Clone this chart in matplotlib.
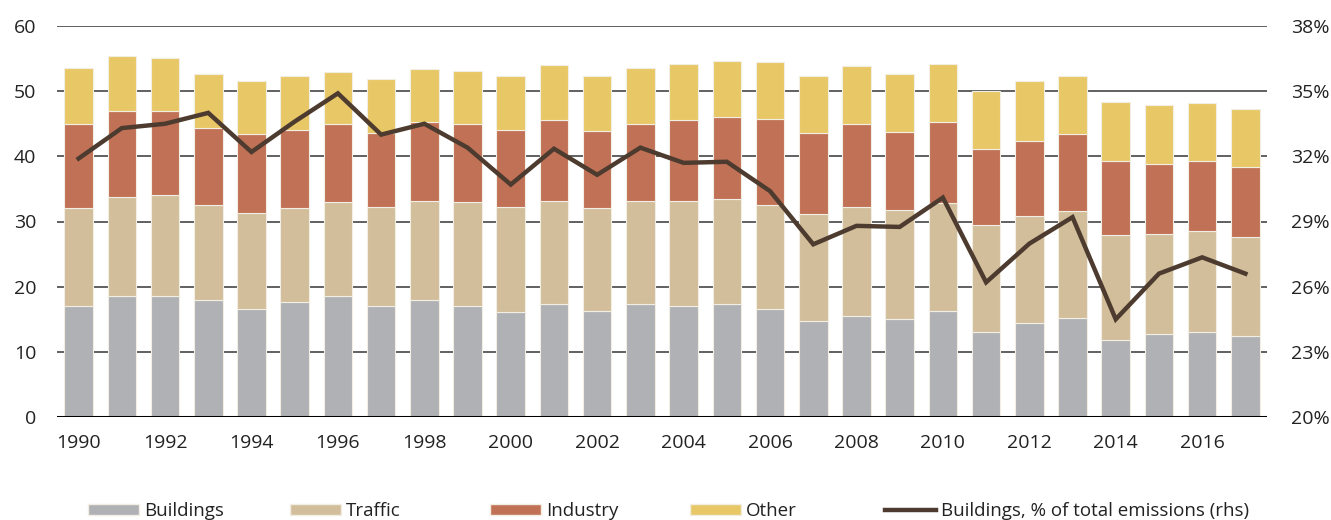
import matplotlib
matplotlib.use("Agg")
import matplotlib.pyplot as plt
from matplotlib.patches import Patch
from matplotlib.lines import Line2D
import numpy as np

plt.rcParams['font.family'] = ['Open Sans', 'DejaVu Sans']

years = list(range(1990, 2018))
# cumulative tops, converted to segment values below
buildings = [17.1, 18.5, 18.5, 17.9, 16.6, 17.6, 18.5, 17.0, 17.9, 17.1,
             16.1, 17.4, 16.3, 17.3, 17.1, 17.4, 16.5, 14.7, 15.5, 15.1,
             16.3, 13.1, 14.4, 15.2, 11.8, 12.7, 13.1, 12.5]
traffic_top = [32.0, 33.8, 34.1, 32.5, 31.3, 32.1, 33.0, 32.2, 33.1, 33.0,
               32.2, 33.2, 32.0, 33.1, 33.1, 33.4, 32.6, 31.1, 32.3, 31.7,
               32.8, 29.4, 30.8, 31.6, 28.0, 28.1, 28.5, 27.6]
industry_top = [45.0, 47.0, 46.9, 44.4, 43.4, 44.1, 44.9, 43.6, 45.2, 45.0,
                44.1, 45.6, 43.9, 45.0, 45.5, 46.1, 45.7, 43.6, 44.9, 43.7,
                45.3, 41.2, 42.4, 43.4, 39.3, 38.9, 39.3, 38.3]
other_top = [53.6, 55.4, 55.1, 52.6, 51.6, 52.4, 53.0, 51.9, 53.4, 53.1,
             52.4, 54.0, 52.3, 53.5, 54.2, 54.7, 54.4, 52.4, 53.9, 52.6,
             54.2, 50.1, 51.6, 52.3, 48.4, 47.9, 48.2, 47.2]
share_pct = [31.9, 33.3, 33.5, 34.0, 32.2, 33.6, 34.9, 33.0, 33.5, 32.4,
             30.7, 32.35, 31.15, 32.4, 31.7, 31.75, 30.4, 27.95, 28.8, 28.75,
             30.1, 26.2, 27.98, 29.2, 24.5, 26.6, 27.35, 26.6]

traffic = [t - b for t, b in zip(traffic_top, buildings)]
industry = [i - t for i, t in zip(industry_top, traffic_top)]
other = [o - i for o, i in zip(other_top, industry_top)]

left_ticks = [0, 10, 20, 30, 40, 50, 60]
right_ticks = [20, 23, 26, 29, 32, 35, 38]
series_names = ["Buildings", "Traffic", "Industry", "Other"]
line_name = "Buildings, % of total emissions (rhs)"

c_build = "#B0B1B5"
c_traffic = "#D2BE9A"
c_ind = "#C17256"
c_other = "#E8C766"
c_line = "#4D3B2F"

fig = plt.figure(figsize=(13.31, 5.20), dpi=100)
ax = fig.add_axes([57/1331, 1 - 417/520, (1267 - 57)/1331, (417 - 26)/520])

x = np.arange(len(years))
w = 0.66
ec = "#F2EEE4"
ax.bar(x, buildings, w, color=c_build, edgecolor=ec, linewidth=0.8, zorder=2)
ax.bar(x, traffic, w, bottom=buildings, color=c_traffic, edgecolor=ec, linewidth=0.8, zorder=2)
ax.bar(x, industry, w, bottom=traffic_top, color=c_ind, edgecolor=ec, linewidth=0.8, zorder=2)
ax.bar(x, other, w, bottom=industry_top, color=c_other, edgecolor=ec, linewidth=0.8, zorder=2)

ax.set_xlim(-0.5, len(years) - 0.5)
ax.set_ylim(0, 60)
ax.set_yticks(left_ticks)
ax.set_yticklabels([str(v) for v in left_ticks])
for v in left_ticks[1:]:
    ax.axhline(v, color="#454545", linewidth=1.2, zorder=1)
ax.axhline(0, color="black", linewidth=2.2, zorder=4)

ax.set_xticks(x[::2])
ax.set_xticklabels([str(y) for y in years[::2]])
for s in ax.spines.values():
    s.set_visible(False)
ax.tick_params(axis='both', length=0, labelsize=14, colors="#222222")
ax.tick_params(axis='y', pad=15)
ax.tick_params(axis='x', pad=12)

ax2 = ax.twinx()
ax2.plot(x, share_pct, color=c_line, linewidth=3.2, solid_joinstyle='miter', zorder=5)
ax2.set_ylim(20, 38)
ax2.set_yticks(right_ticks)
ax2.set_yticklabels([f"{v}%" for v in right_ticks])
for s in ax2.spines.values():
    s.set_visible(False)
ax2.tick_params(axis='y', length=0, labelsize=14, colors="#222222", pad=17)

handles = [Patch(facecolor=c_build, edgecolor=ec),
           Patch(facecolor=c_traffic, edgecolor=ec),
           Patch(facecolor=c_ind, edgecolor=ec),
           Patch(facecolor=c_other, edgecolor=ec),
           Line2D([0], [0], color=c_line, linewidth=3.2)]
labels = series_names + [line_name]
xpos = [88, 290, 490, 690, 885]
for h, l, xp in zip(handles, labels, xpos):
    fig.legend([h], [l], loc='center left', bbox_to_anchor=(xp/1331, 1 - 511/520),
               frameon=False, borderpad=0, borderaxespad=0, handlelength=2.7,
               handleheight=0.55, handletextpad=0.28, fontsize=13.5,
               labelcolor="#222222")

fig.savefig("out.png", dpi=100)
